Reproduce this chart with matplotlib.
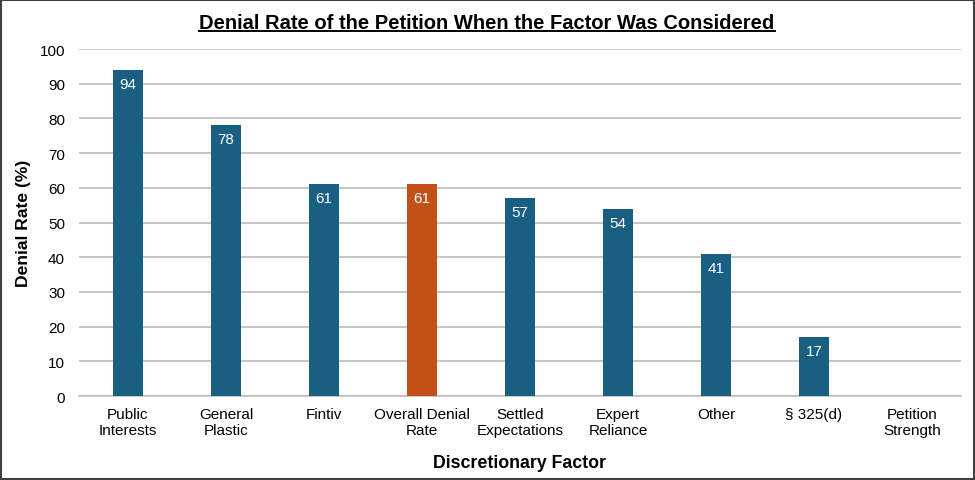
import matplotlib
matplotlib.use("Agg")
import matplotlib.pyplot as plt
from matplotlib.lines import Line2D
from matplotlib.patches import Rectangle

plt.rcParams['font.family'] = ['Liberation Sans', 'DejaVu Sans']

factors = ["Public\nInterests", "General\nPlastic", "Fintiv", "Overall Denial\nRate",
           "Settled\nExpectations", "Expert\nReliance", "Other", "\u00a7 325(d)",
           "Petition\nStrength"]
denial_rate = [94, 78, 61, 61, 57, 54, 41, 17, 0]
highlight = "Overall Denial\nRate"

blue = "#185F81"
orange = "#C25118"
colors = [orange if f == highlight else blue for f in factors]

fig = plt.figure(figsize=(9.75, 4.81), dpi=100)
ax = fig.add_axes([0.081, 0.1746, 0.9046, 0.7214])

x = range(len(factors))
bars = ax.bar(x, denial_rate, width=0.31, color=colors, zorder=3)

for b, v in zip(bars, denial_rate):
    if v > 0:
        ax.text(b.get_x() + b.get_width() / 2, v - 2.0, str(v), ha="center", va="top",
                color="white", fontsize=11, zorder=4)

ax.set_xlim(-0.5, len(factors) - 0.5)
ax.set_ylim(0, 100)
ax.set_yticks(range(0, 101, 10))
ax.set_xticks(list(x))
ax.set_xticklabels(factors, fontsize=11, linespacing=1.2)
ax.tick_params(axis="y", labelsize=11, length=0, pad=10)
ax.tick_params(axis="x", length=0, pad=8)
ax.yaxis.grid(True, color="#BDBDBD", linewidth=1.2, zorder=0)
for s in ["top", "right", "left"]:
    ax.spines[s].set_visible(False)
ax.spines["bottom"].set_color("#BDBDBD")
ax.spines["bottom"].set_linewidth(1.2)

ax.set_ylabel("Denial Rate (%)", fontsize=12.6, fontweight="bold", labelpad=6)
ax.set_xlabel("Discretionary Factor", fontsize=12.8, fontweight="bold", labelpad=12)

title = fig.text(0.4995, 0.952, "Denial Rate of the Petition When the Factor Was Considered",
                 ha="center", va="center", fontsize=14.5, fontweight="bold")

# underline under the title
fig.canvas.draw()
bb = title.get_window_extent().transformed(fig.transFigure.inverted())
fig.add_artist(Line2D([bb.x0, bb.x1], [bb.y0 + 0.002, bb.y0 + 0.002], color="black",
                      linewidth=1.4, transform=fig.transFigure))

# frame around the chart
fig.add_artist(Rectangle((0.001, 0.002), 0.998, 0.996, transform=fig.transFigure,
                         fill=False, edgecolor="#404040", linewidth=1.5))

fig.savefig("out.png", dpi=100)
